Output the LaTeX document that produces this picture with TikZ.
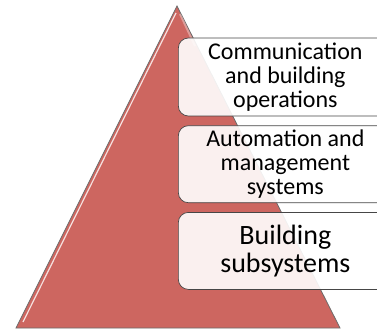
\documentclass[tikz,border=0pt]{standalone}
\usepackage{fontspec}
\setmainfont{Carlito}
\usepackage{tikz}
\usetikzlibrary{calc}
\usetikzlibrary{positioning}

\definecolor{pyrred}{RGB}{205,102,96}
\definecolor{edgegray}{RGB}{70,70,70}

\tikzset{
  layerbox/.style={draw=edgegray,line width=0.7pt,fill=white,fill opacity=0.9,text opacity=1,
    rounded corners=10pt,minimum width=214pt,align=center,anchor=west,inner sep=0pt},
}

\begin{document}
\begin{tikzpicture}[x=1pt,y=-1pt]
        \useasboundingbox (0,0) rectangle (377,331);
        \clip (0,0) rectangle (377,331);

        \coordinate (A) at (177,6);
        \coordinate (L) at (16,328);
        \coordinate (R) at (340,328);
        \filldraw[fill=pyrred,draw=edgegray!80,line width=0.8pt] (A)--(R)--(L)--cycle;
        \draw[white,opacity=0.8,line width=1.2pt] ($(A)+(-1,7)$)--($(L)+(7,-6)$);
        \draw[white,opacity=0.35,line width=2pt] ($(A)+(3,8)$)--($(A)+(18,40)$);

        \node[layerbox,minimum height=78pt,font=\fontsize{24}{24}\selectfont] (comm) at (178,77)
            {Communication\\and building\\operations};
        \node[layerbox,minimum height=77pt,font=\fontsize{24}{24}\selectfont,below=9pt of comm.south west,anchor=north west] (auto)
            {Automation and\\management\\systems};
        \node[layerbox,minimum height=77pt,font=\fontsize{28}{28.5}\selectfont,below=9pt of auto.south west,anchor=north west] (sub)
            {Building\\subsystems};
    \end{tikzpicture}
\end{document}
